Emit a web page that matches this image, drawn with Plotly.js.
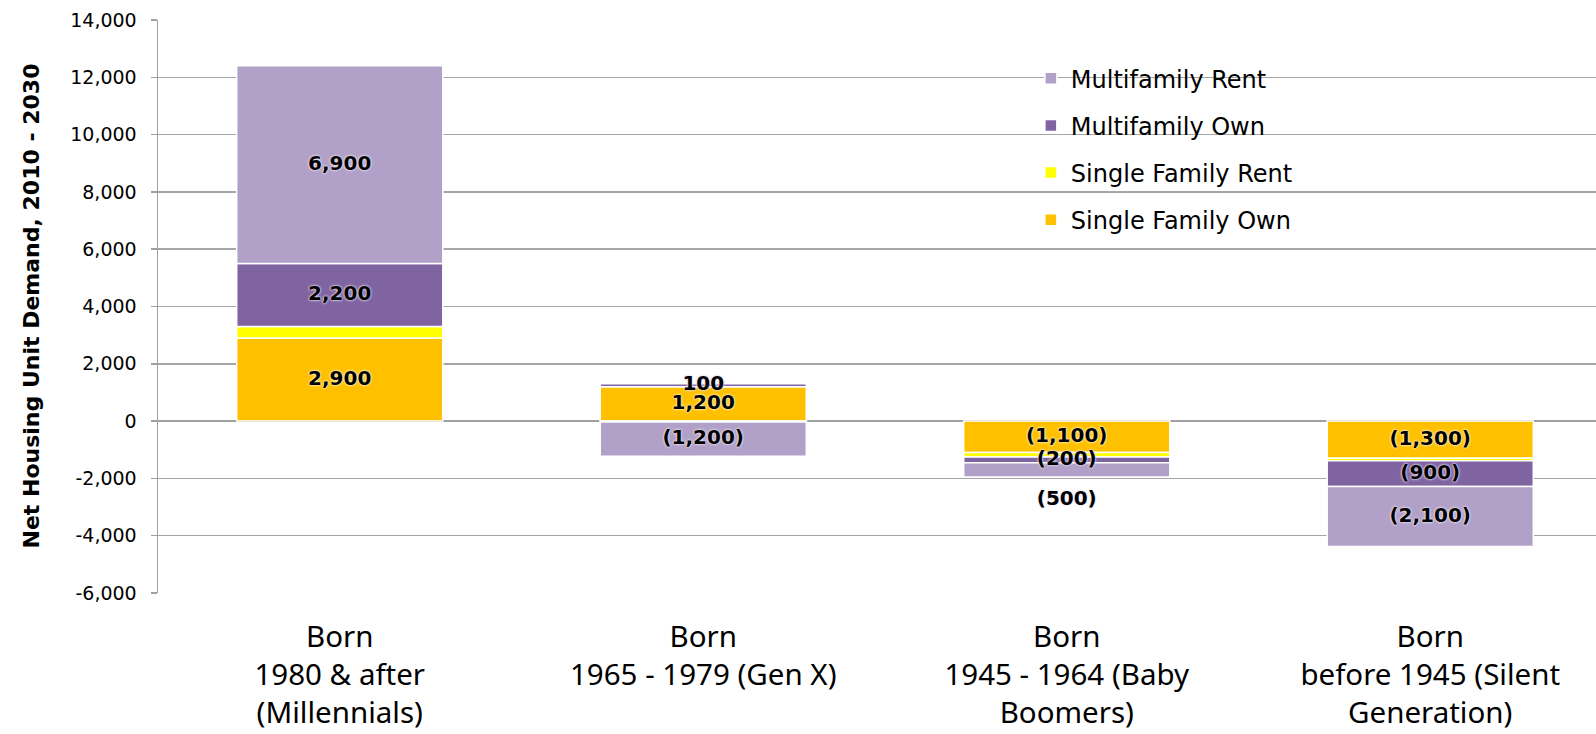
<!DOCTYPE html>
<html>
<head>
<meta charset="utf-8">
<script src="https://cdn.plot.ly/plotly-3.0.1.min.js"></script>
<style>html,body{margin:0;padding:0;background:#fff;}#chart{width:1596px;height:734px;}</style>
</head>
<body>
<div id="chart"></div>
<script>
// ---- Data ----
const categories = [
  "Born<br>1980 & after<br>(Millennials)",
  "Born<br>1965 - 1979 (Gen X)",
  "Born<br>1945 - 1964 (Baby<br>Boomers)",
  "Born<br>before 1945 (Silent<br>Generation)"
];
const seriesNames = ["Single Family Own", "Single Family Rent", "Multifamily Own", "Multifamily Rent"];
const singleFamilyOwn  = [2900, 1200, -1100, -1300];
const singleFamilyRent = [400, -30, -150, -80];
const multifamilyOwn   = [2200, 100, -200, -900];
const multifamilyRent  = [6900, -1200, -500, -2100];
// which data labels are shown, and where
const sfOwnShow  = [true, true, true, true];
const sfRentShow = [false, false, false, false];
const mfOwnShow  = [true, true, true, true];
const mfRentShow = [true, true, true, true];
const mfRentOutside = [false, false, true, false];
const yTickVals = [-6000, -4000, -2000, 0, 2000, 4000, 6000, 8000, 10000, 12000, 14000];
const yTickText = ["-6,000", "-4,000", "-2,000", "0", "2,000", "4,000", "6,000", "8,000", "10,000", "12,000", "14,000"];
const yTitle = "Net Housing Unit Demand, 2010 - 2030";

// ---- Helpers ----
function fmt(v) {
  const s = Math.abs(v).toLocaleString("en-US");
  return v < 0 ? "(" + s + ")" : s;
}

const FONT = "DejaVu Sans, Verdana, sans-serif";
const XFONT = "Noto Sans, DejaVu Sans, sans-serif";
const colors = ["#FFC000", "#FFFF00", "#8064A2", "#B1A0C7"];
const glows = ["#fff4c8", "#ffffd0", "#e2d9ee", "#ece6f4"];
const valuesList = [singleFamilyOwn, singleFamilyRent, multifamilyOwn, multifamilyRent];
const showList = [sfOwnShow, sfRentShow, mfOwnShow, mfRentShow];
const outsideList = [null, null, null, mfRentOutside];
const ranks = [4, 3, 2, 1];

const traces = valuesList.map((vals, k) => ({
  type: "bar",
  name: seriesNames[k],
  x: categories,
  y: vals,
  marker: { color: colors[k], line: { color: "#ffffff", width: 1.5 } },
  legendgroup: "g" + k,
  legendrank: ranks[k],
  hoverinfo: "name+y"
}));

// label overlay: positions derived from the stacked values (relative stacking)
const posBase = categories.map(() => 0);
const negBase = categories.map(() => 0);
valuesList.forEach((vals, k) => {
  const ys = [], tp = [], tx = [];
  vals.forEach((v, i) => {
    const base = v >= 0 ? posBase[i] : negBase[i];
    const end = base + v;
    const outside = outsideList[k] && outsideList[k][i];
    ys.push(outside ? end : (base + end) / 2);
    tp.push(outside ? (v < 0 ? "bottom center" : "top center") : "middle center");
    tx.push(showList[k][i] ? fmt(v) : "");
    if (v >= 0) posBase[i] = end; else negBase[i] = end;
  });
  traces.push({
    type: "scatter", mode: "markers+text",
    x: categories, y: ys, text: tx, textposition: tp,
    marker: { size: 20, opacity: 0, color: "#fff" },
    cliponaxis: false, showlegend: false, hoverinfo: "skip",
    textfont: { family: FONT, size: 20, color: "#000", weight: "bold",
                shadow: "0 0 3px " + glows[k] + ", 0 0 2px " + glows[k] + ", 0 0 1px " + glows[k] }
  });
});

const xRange = [-0.5, -0.5 + 1438 / 363.5];
const boundaries = categories.slice(1).map((_, i) => i + 0.5);

const layout = {
  width: 1596, height: 734,
  margin: { l: 158, r: 0, t: 20, b: 141, pad: 0 },
  paper_bgcolor: "#ffffff", plot_bgcolor: "#ffffff",
  barmode: "relative",
  bargap: 0.433,
  showlegend: true,
  legend: {
    x: 0.607, y: 0.937, xanchor: "left", yanchor: "top",
    bgcolor: "rgba(0,0,0,0)", borderwidth: 0,
    traceorder: "grouped", tracegroupgap: 13,
    font: { family: FONT, size: 24, color: "#000" }
  },
  xaxis: {
    type: "category",
    range: xRange,
    showline: false, showgrid: false, zeroline: false,
    ticks: "", ticklabelstandoff: 23,
    tickfont: { family: XFONT, size: 29.5, color: "#000" },
    fixedrange: true
  },
  xaxis2: {
    type: "linear",
    overlaying: "x",
    anchor: "free",
    position: 0.3,
    range: xRange,
    showline: true, linecolor: "#a0a0a0", linewidth: 1.5,
    showgrid: false, zeroline: false,
    tickmode: "array", tickvals: boundaries,
    ticks: "outside", ticklen: 8, tickwidth: 1.5, tickcolor: "#a0a0a0",
    showticklabels: false,
    fixedrange: true
  },
  yaxis: {
    range: [-6000, 14000],
    tickmode: "array", tickvals: yTickVals, ticktext: yTickText,
    showgrid: true, gridcolor: "#a6a6a6", gridwidth: 1.5,
    zeroline: true, zerolinecolor: "#a0a0a0", zerolinewidth: 1.5,
    showline: true, linecolor: "#a0a0a0", linewidth: 1.5,
    ticks: "outside", ticklen: 6, tickwidth: 1.5, tickcolor: "#a0a0a0",
    ticklabelstandoff: 10,
    tickfont: { family: FONT, size: 19, color: "#000" },
    fixedrange: true
  },
  annotations: [{
    text: "<b>" + yTitle + "</b>",
    xref: "paper", yref: "paper",
    x: (31 - 158) / 1438, y: 0.5,
    xanchor: "center", yanchor: "middle",
    textangle: -90, showarrow: false,
    font: { family: FONT, size: 22, color: "#000" }
  }]
};

Plotly.newPlot("chart", traces, layout, { displayModeBar: false, staticPlot: true });
</script>
</body>
</html>
